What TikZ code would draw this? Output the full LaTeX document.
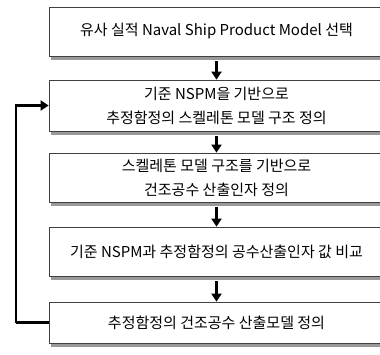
\documentclass[tikz,border=0pt]{standalone}
\usepackage{fontspec}
\setmainfont{Noto Sans CJK KR}
\usetikzlibrary{arrows.meta,shadows}

\begin{document}
\begin{tikzpicture}[x=1pt, y=-1pt,
    stepbox/.style={draw=black!75, line width=0.8pt, fill=white, minimum width=335pt,
        align=center, font=\fontsize{15}{24}\selectfont,
        drop shadow={shadow xshift=2pt, shadow yshift=-3.5pt, fill=black!40, opacity=1}},
    flow/.style={line width=2.4pt, -{Triangle[length=8pt,width=10pt]}}]

    \useasboundingbox (0,0) rectangle (380,354);

    % Steps
    \node[stepbox, minimum height=49pt] (b1) at (216.5,31.5) {유사 실적 Naval Ship Product Model 선택};
    \node[stepbox, minimum height=51pt] (b2) at (216.5,105.5) {기준 NSPM을 기반으로\\추정함정의 스켈레톤 모델 구조 정의};
    \node[stepbox, minimum height=49pt] (b3) at (216.5,177.5) {스켈레톤 모델 구조를 기반으로\\건조공수 산출인자 정의};
    \node[stepbox, minimum height=49pt] (b4) at (216.5,251.5) {기준 NSPM과 추정함정의 공수산출인자 값 비교};
    \node[stepbox, minimum height=41pt] (b5) at (216.5,322.5) {추정함정의 건조공수 산출모델 정의};

    % Arrows
    \foreach \a/\b in {b1/b2, b2/b3, b3/b4, b4/b5} {
        \draw[flow, shorten <=5pt] (\a.south) -- (\b.north);
    }

    % Feedback
    \coordinate (back) at (16,322.5);
    \draw[line width=2.4pt] (b5.west) -- (back);
    \draw[flow] (back) |- (b2.west);
\end{tikzpicture}
\end{document}
